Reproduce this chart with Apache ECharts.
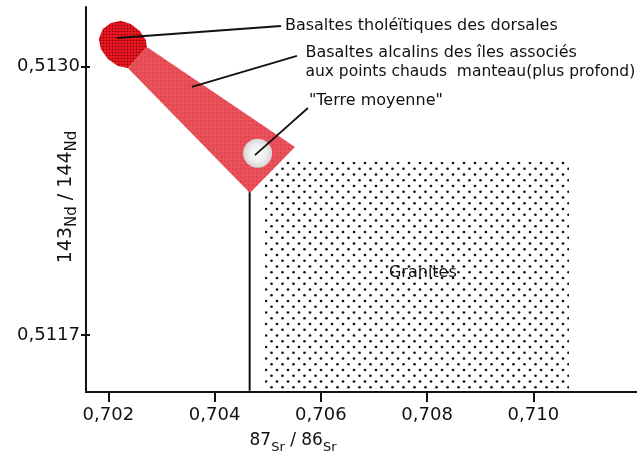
<!DOCTYPE html>
<html>
<head>
<meta charset="utf-8">
<script src="https://cdn.jsdelivr.net/npm/echarts@6/dist/echarts.min.js"></script>
<style>
  html, body { margin: 0; padding: 0; background: #fff; }
  #chart { width: 637px; height: 456px; }
</style>
</head>
<body>
<div id="chart"></div>
<script>
// Axis ticks (87Sr/86Sr and 143Nd/144Nd)
const srTicks = [0.702, 0.704, 0.706, 0.708, 0.710];
const ndTicks = [0.5117, 0.5130];

// Mid-ocean ridge tholeiitic basalts (outline)
const morbSr = [0.702367, 0.702179, 0.701991, 0.701859, 0.701821, 0.701896, 0.702047, 0.702235, 0.702424, 0.702593, 0.702706, 0.702725];
const morbNd = [0.512993, 0.513002, 0.513036, 0.513085, 0.513133, 0.513182, 0.513211, 0.513221, 0.513206, 0.513172, 0.513128, 0.513094];

// Ocean-island alkali basalts (hot-spot mantle field)
const oibSr = [0.702725, 0.705512, 0.704665, 0.702367];
const oibNd = [0.513094, 0.512610, 0.512387, 0.512993];

// Granites field
const graniteSr = [0.70495, 0.71067, 0.71067, 0.70495];
const graniteNd = [0.51254, 0.51254, 0.51143, 0.51143];

// Bulk Earth
const bulkEarthSr = [0.70481];
const bulkEarthNd = [0.51258];

// Bulk Earth Sr reference line
const bulkLineSr = [0.70466, 0.70466];
const bulkLineNd = [0.51242, 0.51143];

// Annotation texts with their leader lines
const noteTexts = [
  '{a|Basaltes tholéïtiques des dorsales}',
  '{a|Basaltes alcalins des îles associés}\n{b|aux points chauds  manteau(plus profond)}',
  '{a|"Terre moyenne"}'
];
const noteFromSr = [0.702162, 0.703573, 0.704759];
const noteFromNd = [0.513138, 0.512901, 0.512571];
const noteToSr   = [0.705249, 0.705550, 0.705757];
const noteToNd   = [0.513196, 0.513051, 0.512799];
const noteTextSr = [0.705324, 0.705710, 0.705776];
const noteTextNd = [0.513196, 0.513019, 0.512833];

const graniteLabel = 'Granites';
const graniteLabelPos = [0.70792, 0.51200];

const FONT = '"DejaVu Sans", sans-serif';

function makePattern(w, h, bg, draw) {
  const c = document.createElement('canvas');
  c.width = w; c.height = h;
  const ctx = c.getContext('2d');
  if (bg) { ctx.fillStyle = bg; ctx.fillRect(0, 0, w, h); }
  draw(ctx);
  return { image: c, repeat: 'repeat' };
}
function dot(ctx, x, y, r, col) {
  ctx.fillStyle = col; ctx.beginPath(); ctx.arc(x, y, r, 0, Math.PI * 2); ctx.fill();
}

// stippled granite fill
const granitePattern = makePattern(22, 23, null, ctx => {
  const col = '#111';
  const r = 1.35;
  dot(ctx, 2, 2, r, col); dot(ctx, 13, 2, r, col);
  dot(ctx, 7.5, 7.75, r, col); dot(ctx, 18.5, 7.75, r, col);
  dot(ctx, 2, 13.5, r, col); dot(ctx, 13, 13.5, r, col);
  dot(ctx, 7.5, 19.25, r, col); dot(ctx, 18.5, 19.25, r, col);
});
// dense dark screen over red
const morbPattern = makePattern(3, 3, '#ea1620', ctx => {
  dot(ctx, 1.5, 1.5, 0.75, 'rgba(70,0,5,0.75)');
});
// light grain over salmon red
const oibPattern = makePattern(4, 4, '#e84f58', ctx => {
  dot(ctx, 1, 1, 0.6, 'rgba(150,20,30,0.45)');
  dot(ctx, 3, 3, 0.5, 'rgba(255,140,140,0.4)');
});

function zip(a, b) { return a.map((v, i) => [v, b[i]]); }

function polygonSeries(name, sr, nd, fill, z) {
  return {
    type: 'custom',
    name: name,
    z: z,
    data: zip(sr, nd),
    renderItem: function (params, api) {
      if (params.dataIndex !== 0) return null;
      const pts = sr.map((v, i) => api.coord([v, nd[i]]));
      return { type: 'polygon', shape: { points: pts }, style: { fill: fill, stroke: null } };
    }
  };
}

const chart = echarts.init(document.getElementById('chart'), null, { renderer: 'canvas' });

const labelFmtSr = v => v.toFixed(3).replace('.', ',');
const labelFmtNd = v => v.toFixed(4).replace('.', ',');

const noteRich = {
  a: { fontFamily: FONT, fontSize: 16, lineHeight: 19, fill: '#111' },
  b: { fontFamily: FONT, fontSize: 15.5, lineHeight: 19, fill: '#111' }
};

const option = {
  animation: false,
  backgroundColor: '#ffffff',
  grid: { left: 86, right: 0, top: 7, bottom: 64 },
  xAxis: {
    type: 'value',
    min: 0.70158, max: 0.71195,
    axisLine: { show: true, lineStyle: { color: '#111', width: 2 } },
    axisTick: { show: true, customValues: srTicks, length: 10, lineStyle: { color: '#111', width: 2 } },
    axisLabel: { customValues: srTicks, formatter: labelFmtSr, color: '#111', fontFamily: FONT, fontSize: 18, margin: 14 },
    splitLine: { show: false }
  },
  yAxis: [{
    type: 'value',
    min: 0.511424, max: 0.513288,
    axisLine: { show: true, lineStyle: { color: '#111', width: 2 } },
    axisTick: { show: true, customValues: ndTicks, length: 5, lineStyle: { color: '#111', width: 2 } },
    axisLabel: { customValues: ndTicks, formatter: labelFmtNd, color: '#111', fontFamily: FONT, fontSize: 18, margin: 6 },
    splitLine: { show: false }
  }, {
    type: 'value',
    min: 0.511424, max: 0.513288,
    position: 'left',
    axisLine: { show: false },
    axisTick: { show: true, inside: true, customValues: ndTicks, length: 4, lineStyle: { color: '#111', width: 2 } },
    axisLabel: { show: false },
    splitLine: { show: false }
  }],
  graphic: [
    {
      type: 'text', x: 293, y: 443,
      style: {
        text: '{n|87}{s|Sr}{n| / 86}{s|Sr}',
        align: 'center', verticalAlign: 'middle',
        fill: '#111',
        rich: {
          n: { fontFamily: FONT, fontSize: 17, verticalAlign: 'top', lineHeight: 22, fill: '#111' },
          s: { fontFamily: FONT, fontSize: 13, verticalAlign: 'bottom', lineHeight: 22, fill: '#111' }
        }
      }
    },
    {
      type: 'text', x: 68, y: 197, rotation: Math.PI / 2,
      style: {
        text: '{n|143}{s|Nd}{n| / 144}{s|Nd}',
        align: 'center', verticalAlign: 'middle',
        fill: '#111',
        rich: {
          n: { fontFamily: FONT, fontSize: 19, verticalAlign: 'top', lineHeight: 23, fill: '#111' },
          s: { fontFamily: FONT, fontSize: 15, verticalAlign: 'bottom', lineHeight: 23, fill: '#111' }
        }
      }
    }
  ],
  series: [
    polygonSeries('Granites', graniteSr, graniteNd, granitePattern, 1),
    {
      type: 'line',
      name: 'Sr Terre moyenne',
      z: 2,
      data: zip(bulkLineSr, bulkLineNd),
      symbol: 'none',
      lineStyle: { color: '#111', width: 2 }
    },
    polygonSeries('Basaltes alcalins', oibSr, oibNd, oibPattern, 3),
    polygonSeries('Basaltes tholéïtiques', morbSr, morbNd, morbPattern, 4),
    {
      type: 'scatter',
      name: 'Terre moyenne',
      z: 5,
      data: zip(bulkEarthSr, bulkEarthNd),
      symbol: 'circle',
      symbolSize: 29,
      itemStyle: {
        opacity: 1,
        color: {
          type: 'radial', x: 0.5, y: 0.5, r: 0.5,
          colorStops: [{ offset: 0, color: '#ffffff' }, { offset: 0.55, color: '#f0f0f0' }, { offset: 1, color: '#d6d6d6' }]
        }
      }
    },
    {
      type: 'custom',
      name: 'annotations',
      z: 6,
      data: noteTexts.map((t, i) => [noteFromSr[i], noteFromNd[i]]),
      renderItem: function (params, api) {
        const i = params.dataIndex;
        const a = api.coord([noteFromSr[i], noteFromNd[i]]);
        const b = api.coord([noteToSr[i], noteToNd[i]]);
        const t = api.coord([noteTextSr[i], noteTextNd[i]]);
        return {
          type: 'group',
          children: [
            { type: 'line', shape: { x1: a[0], y1: a[1], x2: b[0], y2: b[1] }, style: { stroke: '#111', lineWidth: 1.8 } },
            { type: 'text', x: t[0], y: t[1], style: { text: noteTexts[i], fill: '#111', align: 'left', verticalAlign: 'middle', rich: noteRich } }
          ]
        };
      }
    },
    {
      type: 'custom',
      name: 'granite label',
      z: 6,
      data: [graniteLabelPos],
      renderItem: function (params, api) {
        const p = api.coord(graniteLabelPos);
        return { type: 'text', x: p[0], y: p[1], style: { text: graniteLabel, fill: '#111', font: '16px ' + FONT, align: 'center', verticalAlign: 'middle' } };
      }
    }
  ]
};
chart.setOption(option);
</script>
</body>
</html>
